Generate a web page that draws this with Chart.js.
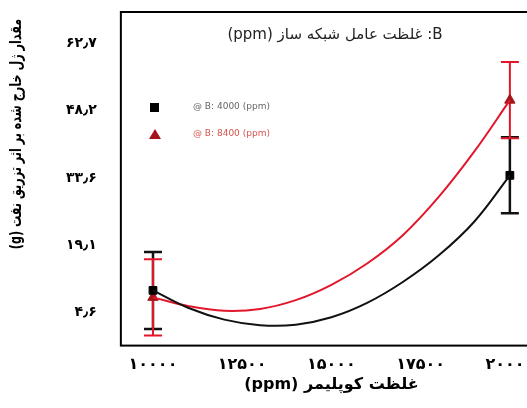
<!DOCTYPE html>
<html>
<head>
<meta charset="utf-8">
<script src="https://cdn.jsdelivr.net/npm/chart.js@4/dist/chart.umd.min.js"></script>
<style>
  html, body { margin: 0; padding: 0; background: #fff; overflow: hidden; }
  #wrap { width: 552px; height: 408px; }
</style>
</head>
<body>
<div id="wrap"><canvas id="chart"></canvas></div>
<script>
// داده ها
const curveX = [10000, 11000, 12000, 13000, 14000, 15000, 16000, 17000, 18000, 19000, 20000];
const curveBlack = [9.4, 5.6, 3.1, 1.9, 2.0, 3.6, 6.7, 11.2, 16.9, 24.2, 34.2];
const curveRed = [7.9, 6.0, 5.0, 5.4, 7.3, 10.6, 15.2, 21.3, 29.5, 39.3, 50.4];

const pointX = [10000, 20000];
const blackMean = [9.4, 34.2];
const blackErr = [8.3, 8.2];
const redMean = [7.9, 50.4];
const redErr = [8.2, 8.2];

const seriesLabels = ['@ B: 4000 (ppm)', '@ B: 8400 (ppm)'];
const legendTitle = '(ppm) غلظت عامل شبکه ساز :B';

const xTickValues = [10000, 12500, 15000, 17500, 20000];
const xTickLabels = ['۱۰۰۰۰', '۱۲۵۰۰', '۱۵۰۰۰', '۱۷۵۰۰', '۲۰۰۰۰'];
const yTickValues = [4.6, 19.1, 33.6, 48.2, 62.7];
const yTickLabels = ['۴٫۶', '۱۹٫۱', '۳۳٫۶', '۴۸٫۲', '۶۲٫۷'];

const xTitle = '(ppm) غلظت کوپلیمر';
const yTitle = '(g) مقدار ژل خارج شده بر اثر تزریق نفت';

const FONT = 'DejaVu Sans';

// error bars + frame + legend inside plot + y title
const extras = {
  id: 'extras',
  beforeDatasetsDraw(chart) {
    const { ctx, scales: { x, y } } = chart;
    const bars = [
      { mean: blackMean, err: blackErr, color: '#111', w: 2.5 },
      { mean: redMean, err: redErr, color: '#e3172b', w: 2 }
    ];
    ctx.save();
    bars.forEach(b => {
      ctx.strokeStyle = b.color;
      ctx.lineWidth = b.w;
      pointX.forEach((px, i) => {
        const cx = x.getPixelForValue(px);
        const top = y.getPixelForValue(b.mean[i] + b.err[i]);
        const bot = y.getPixelForValue(b.mean[i] - b.err[i]);
        ctx.beginPath();
        ctx.moveTo(cx, top); ctx.lineTo(cx, bot);
        ctx.moveTo(cx - 9, top); ctx.lineTo(cx + 9, top);
        ctx.moveTo(cx - 9, bot); ctx.lineTo(cx + 9, bot);
        ctx.stroke();
      });
    });
    ctx.restore();
  },
  afterDraw(chart) {
    const { ctx, chartArea: a } = chart;
    ctx.save();
    ctx.strokeStyle = '#000';
    ctx.lineWidth = 2;
    ctx.strokeRect(a.left, a.top, a.right - a.left, a.bottom - a.top);

    ctx.fillStyle = '#222';
    ctx.font = '15px ' + FONT;
    ctx.textAlign = 'center';
    ctx.textBaseline = 'middle';
    ctx.fillText(legendTitle, 335, 35);

    // legend markers
    ctx.fillStyle = '#000';
    ctx.fillRect(150, 103, 9, 9);
    ctx.fillStyle = '#a3151b';
    ctx.beginPath();
    ctx.moveTo(155, 129); ctx.lineTo(161, 139); ctx.lineTo(149, 139);
    ctx.closePath(); ctx.fill();

    ctx.font = '9px ' + FONT;
    ctx.textAlign = 'left';
    ctx.fillStyle = '#666';
    ctx.fillText(seriesLabels[0], 193, 107);
    ctx.fillStyle = '#d9534f';
    ctx.fillText(seriesLabels[1], 193, 134);

    // y axis title, drawn by hand so it can be narrowed
    ctx.translate(17, 134);
    ctx.rotate(-Math.PI / 2);
    ctx.scale(0.7, 1);
    ctx.fillStyle = '#000';
    ctx.font = 'bold 16px ' + FONT;
    ctx.textAlign = 'center';
    ctx.fillText(yTitle, 0, 0);
    ctx.restore();
  }
};

const ctx = document.getElementById('chart').getContext('2d');

new Chart(ctx, {
  type: 'line',
  data: {
    datasets: [
      {
        label: 'black-fit',
        data: curveX.map((v, i) => ({ x: v, y: curveBlack[i] })),
        borderColor: '#111',
        borderWidth: 2,
        pointRadius: 0,
        tension: 0.4
      },
      {
        label: 'red-fit',
        data: curveX.map((v, i) => ({ x: v, y: curveRed[i] })),
        borderColor: '#e3172b',
        borderWidth: 2,
        pointRadius: 0,
        tension: 0.4
      },
      {
        label: seriesLabels[0],
        data: pointX.map((v, i) => ({ x: v, y: blackMean[i] })),
        showLine: false,
        pointStyle: 'rect',
        pointRadius: 5.5,
        backgroundColor: '#000',
        borderColor: '#000'
      },
      {
        label: seriesLabels[1],
        data: pointX.map((v, i) => ({ x: v, y: redMean[i] })),
        showLine: false,
        pointStyle: 'triangle',
        pointRadius: 6,
        backgroundColor: '#a3151b',
        borderColor: '#a3151b'
      }
    ]
  },
  options: {
    responsive: true,
    maintainAspectRatio: false,
    animation: false,
    layout: { padding: { top: 12, right: 10, bottom: 0, left: 42 } },
    plugins: {
      legend: { display: false },
      tooltip: { enabled: false }
    },
    scales: {
      x: {
        type: 'linear',
        min: 9100,
        max: 20900,
        afterBuildTicks: axis => { axis.ticks = xTickValues.map(v => ({ value: v })); },
        ticks: {
          color: '#000',
          padding: 10,
          maxRotation: 0,
          font: { family: FONT, size: 16, weight: 'bold' },
          callback: v => xTickLabels[xTickValues.indexOf(v)]
        },
        grid: { display: false, drawTicks: false },
        border: { display: false },
        title: {
          display: true,
          text: xTitle,
          color: '#000',
          padding: { top: -10, bottom: 14 },
          font: { family: FONT, size: 16, weight: 'bold' }
        }
      },
      y: {
        min: -2.5,
        max: 69.4,
        afterBuildTicks: axis => { axis.ticks = yTickValues.map(v => ({ value: v })); },
        afterFit: axis => { axis.paddingTop = 0; axis.paddingBottom = 0; },
        ticks: {
          color: '#000',
          padding: 24,
          font: { family: FONT, size: 14, weight: 'bold' },
          callback: v => yTickLabels[yTickValues.indexOf(v)]
        },
        grid: { display: false, drawTicks: false },
        border: { display: false }
      }
    }
  },
  plugins: [extras]
});
</script>
</body>
</html>
